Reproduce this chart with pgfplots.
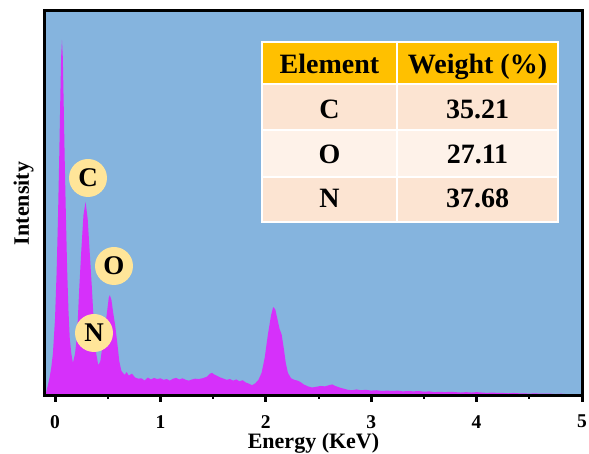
\documentclass[border=0pt]{standalone}
\usepackage{fontspec}
\setmainfont{Liberation Serif}
\usepackage{pgfplots}
\pgfplotsset{compat=1.18}
\definecolor{bgblue}{RGB}{133,180,222}
\definecolor{spec}{RGB}{214,48,250}
\definecolor{hdr}{RGB}{255,192,0}
\definecolor{rowA}{RGB}{252,228,210}
\definecolor{rowB}{RGB}{254,242,233}
\definecolor{circ}{RGB}{255,229,153}
\begin{document}
\begin{tikzpicture}
\useasboundingbox (-45pt,-58pt) rectangle (544pt,396pt);
\begin{axis}[
  scale only axis, width=537pt, height=385pt,
  xmin=-0.095, xmax=5, ymin=0, ymax=100,
  axis on top,
  axis background/.style={fill=bgblue},
  axis line style={line width=3pt, black},
  ytick=\empty,
  xtick={0,1,2,3,4,5},
  minor xtick={0.5,1.5,2.5,3.5,4.5},
  xtick pos=bottom,
  tick align=outside,
  major tick length=6pt, minor tick length=3pt,
  every major tick/.append style={line width=3pt, black},
  every minor tick/.append style={line width=2pt, black},
  /pgf/number format/assume math mode=true,
  xticklabel style={font=\bfseries\fontsize{19.5}{19.5}\selectfont, inner sep=0pt, yshift=-13pt},
  xlabel={Energy (KeV)},
  ylabel={Intensity},
  xlabel style={font=\bfseries\fontsize{22}{22}\selectfont, inner sep=0pt, at={(axis description cs:0.5,-0.137)}, anchor=base},
  ylabel style={font=\bfseries\fontsize{22}{22}\selectfont, inner sep=0pt, at={(axis description cs:-0.0298,0.5)}, anchor=base},
]
\addplot[fill=spec, draw=none] coordinates {
(-0.095,0.4) (-0.085,0.8) (-0.07,2.5) (-0.05,5) (-0.035,7.5) (-0.02,11) (0.00,20) (0.015,32) (0.028,46) (0.04,62) (0.05,77) (0.058,88) (0.066,92.5) (0.074,88) (0.083,75) (0.093,60) (0.104,46) (0.115,33) (0.128,22) (0.14,15) (0.155,11) (0.17,8.6)
(0.19,11) (0.21,16) (0.23,28) (0.25,38) (0.27,47) (0.29,50.4) (0.31,46) (0.33,37) (0.35,28) (0.37,18) (0.385,12) (0.41,8)
(0.43,9) (0.45,13) (0.47,16.5) (0.49,21) (0.51,25.5) (0.52,26.2) (0.535,25) (0.55,22) (0.57,18.5) (0.59,14) (0.61,9) (0.63,6.5) (0.66,5.5) (0.68,6.2) (0.70,5.3) (0.73,5.8) (0.76,4.8) (0.79,4.5) (0.82,4.6) (0.85,4.0) (0.88,4.8) (0.91,4.3) (0.94,4.7) (0.97,4.4) (1.00,4.6) (1.03,4.2) (1.06,4.4) (1.09,4.0) (1.12,4.5) (1.15,4.7) (1.18,4.3) (1.21,4.6) (1.24,4.2) (1.27,4.0) (1.30,4.3) (1.33,4.5) (1.36,4.4) (1.40,4.6) (1.44,5.0) (1.47,5.8) (1.49,6.0) (1.51,5.6) (1.54,5.2) (1.57,4.8) (1.60,4.5) (1.63,4.2) (1.66,4.4) (1.69,4.0) (1.72,4.3) (1.75,3.8) (1.78,4.1) (1.81,3.5) (1.84,3.2) (1.87,2.8) (1.90,3.3) (1.93,4.2)
(1.96,6) (1.99,10) (2.02,16) (2.05,21) (2.07,23.1) (2.09,22.5) (2.11,20) (2.13,17.5) (2.15,16) (2.17,12.5) (2.19,8.5) (2.21,6) (2.24,4.6) (2.27,4.2) (2.30,4.0) (2.33,3.6) (2.36,3.0) (2.40,2.5) (2.44,2.2) (2.48,2.4) (2.52,2.6) (2.56,2.5) (2.60,2.8) (2.63,3.0) (2.66,2.6) (2.70,2.2) (2.74,1.9) (2.78,1.6) (2.82,1.5) (2.86,1.7) (2.90,1.5) (2.95,1.6) (3.00,1.4)
(3.05,1.5) (3.10,1.3) (3.15,1.4) (3.20,1.3) (3.25,1.4) (3.30,1.2) (3.35,1.3) (3.40,1.2) (3.45,1.3) (3.50,1.1) (3.55,1.2) (3.60,1.0) (3.65,1.1) (3.70,1.0) (3.75,1.1) (3.80,1.0) (3.85,0.9) (3.90,1.0) (3.95,0.9) (4.00,1.0) (4.05,0.9) (4.10,0.8) (4.15,0.9) (4.20,0.8) (4.25,0.8) (4.30,0.7) (4.35,0.8) (4.40,0.7) (4.45,0.7) (4.50,0.6) (4.55,0.7) (4.60,0.6) (4.65,0.6) (4.70,0.6) (4.75,0.5) (4.80,0.6) (4.85,0.5) (4.90,0.5) (4.95,0.5) (5.00,0.5)
} \closedcycle;
\end{axis}
% table
\fill[hdr] (217pt,312pt) rectangle (513pt,354pt);
\fill[rowA] (217pt,266pt) rectangle (513pt,312pt);
\fill[rowB] (217pt,219pt) rectangle (513pt,266pt);
\fill[rowA] (217pt,174pt) rectangle (513pt,219pt);
\draw[white, line width=1.5pt] (217pt,174pt) rectangle (513pt,354pt);
\draw[white, line width=1.5pt] (217pt,312pt) -- (513pt,312pt) (217pt,266pt) -- (513pt,266pt) (217pt,219pt) -- (513pt,219pt) (352pt,174pt) -- (352pt,354pt);
\begin{scope}[every node/.style={font=\bfseries\fontsize{28}{28}\selectfont, anchor=base, inner sep=0pt}]
\node at (284.5pt,322pt) {Element};
\node at (432.5pt,322pt) {Weight (\%)};
\node at (284.5pt,277pt) {C};
\node at (432.5pt,277pt) {35.21};
\node at (284.5pt,232pt) {O};
\node at (432.5pt,232pt) {27.11};
\node at (284.5pt,188pt) {N};
\node at (432.5pt,188pt) {37.68};
\end{scope}
% circles
\begin{scope}[every node/.style={circle, fill=circ, minimum size=38pt, inner sep=0pt, font=\bfseries\fontsize{27}{27}\selectfont}]
\node at (43pt,218pt) {C};
\node at (69pt,130pt) {O};
\node at (49pt,63pt) {N};
\end{scope}
\end{tikzpicture}
\end{document}
